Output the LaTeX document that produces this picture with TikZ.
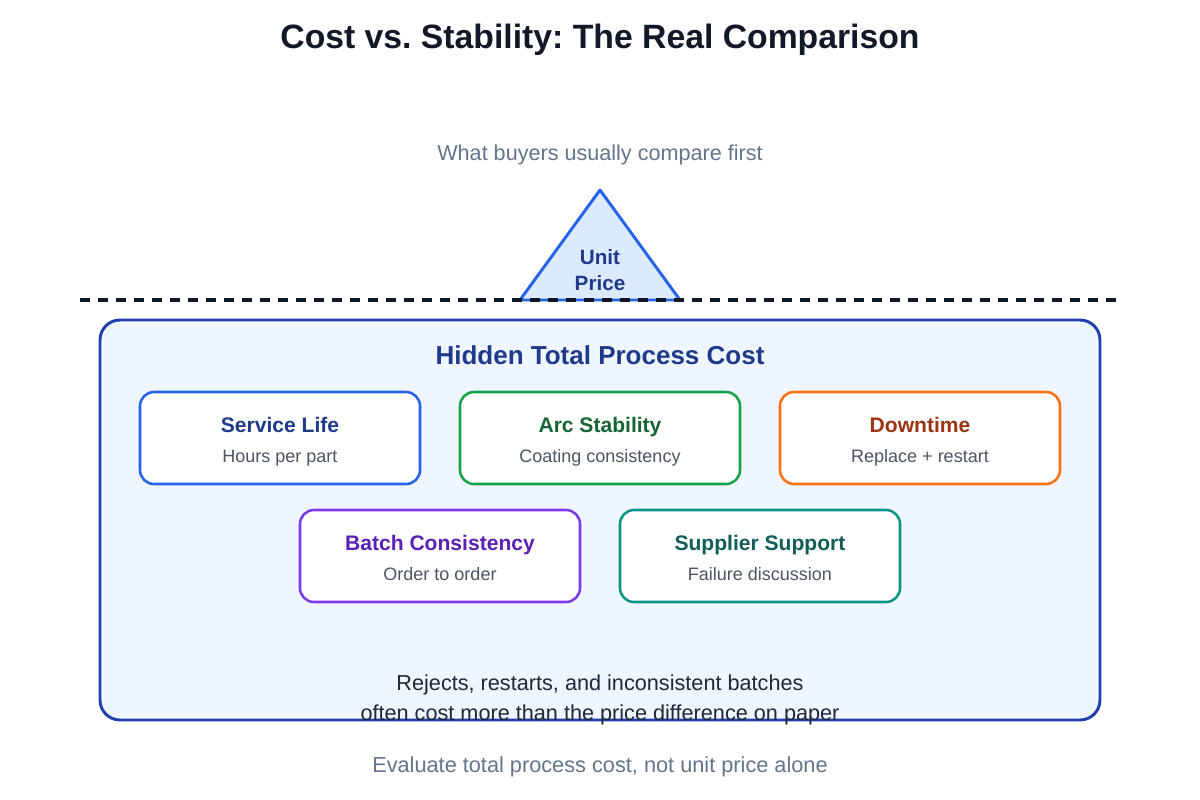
\documentclass[tikz,border=0pt]{standalone}
\usepackage{fontspec}
\setmainfont{Liberation Sans}
\usetikzlibrary{positioning}
\frenchspacing

\definecolor{ink}{HTML}{111827}
\definecolor{muted}{HTML}{64748B}
\definecolor{subgray}{HTML}{4B5563}
\definecolor{bodytxt}{HTML}{1F2937}
\definecolor{navy}{HTML}{1E3A8A}
\definecolor{navyline}{HTML}{1E40AF}
\definecolor{paleblue}{HTML}{EFF6FF}
\definecolor{trifill}{HTML}{DBEAFE}
\definecolor{blueline}{HTML}{2563EB}
\definecolor{greenline}{HTML}{16A34A}
\definecolor{greentxt}{HTML}{166534}
\definecolor{orangeline}{HTML}{F97316}
\definecolor{orangetxt}{HTML}{9A3412}
\definecolor{purpleline}{HTML}{7C3AED}
\definecolor{purpletxt}{HTML}{5B21B6}
\definecolor{tealline}{HTML}{0D9488}
\definecolor{tealtxt}{HTML}{115E59}

\tikzset{
  factor/.style={draw=#1, line width=1.9pt, fill=white, rounded corners=10.5pt,
    minimum width=210pt, minimum height=69pt, inner sep=0pt},
  factorhead/.style={text=#1, anchor=base, font=\fontsize{15.8}{18}\selectfont\bfseries},
  factorsub/.style={text=subgray, anchor=base, font=\fontsize{13.5}{16}\selectfont},
}

\begin{document}
\begin{tikzpicture}[x=0.75pt,y=-0.75pt]
	\useasboundingbox (0,0) rectangle (1200,800);
	% title and question
	\node (title) [text=ink, font=\fontsize{25.3}{30}\selectfont\bfseries] at (600,40) {Cost vs. Stability: The Real Comparison};
	\node (question) [text=muted, font=\fontsize{16.2}{19}\selectfont] at (600,155) {What buyers usually compare first};
	% visible part: unit price
	\coordinate (apex) at (600,190);
	\coordinate (baseleft) at (520,300);
	\coordinate (baseright) at (680,300);
	\draw [draw=blueline, fill=trifill, line width=2.2pt, line join=round] (apex) -- (baseright) -- (baseleft) -- cycle;
	\node (unit) [text=navy, font=\fontsize{15.5}{19.5}\selectfont\bfseries, align=center] at (600,270) {Unit\\Price};
	% waterline
	\coordinate (lineleft) at (80,300);
	\coordinate (lineright) at (1118,300);
	\draw [draw=ink, line width=2.3pt, dash pattern=on 7.5pt off 6pt] (lineleft) -- (lineright);
	% hidden part
	\node (hidden) [draw=navyline, fill=paleblue, line width=2.2pt, rounded corners=15pt,
		minimum width=750pt, minimum height=300pt] at (600,520) {};
	\node (hiddentitle) [text=navy, font=\fontsize{19.5}{23}\selectfont\bfseries] at (600,355) {Hidden Total Process Cost};
	% first row
	\node (life) [factor=blueline] at (280,438) {};
	\node [factorhead=navy] at ([yshift=4.1pt]life.center) {Service Life};
	\node [factorsub] at ([yshift=-18pt]life.center) {Hours per part};
	\node (arc) [factor=greenline] at (600,438) {};
	\node [factorhead=greentxt] at ([yshift=4.1pt]arc.center) {Arc Stability};
	\node [factorsub] at ([yshift=-18pt]arc.center) {Coating consistency};
	\node (down) [factor=orangeline] at (920,438) {};
	\node [factorhead=orangetxt] at ([yshift=4.1pt]down.center) {Downtime};
	\node [factorsub] at ([yshift=-18pt]down.center) {Replace + restart};
	% second row
	\node (batch) [factor=purpleline] at (440,556) {};
	\node [factorhead=purpletxt] at ([yshift=4.1pt]batch.center) {Batch Consistency};
	\node [factorsub] at ([yshift=-18pt]batch.center) {Order to order};
	\node (support) [factor=tealline] at (760,556) {};
	\node [factorhead=tealtxt] at ([yshift=4.1pt]support.center) {Supplier Support};
	\node [factorsub] at ([yshift=-18pt]support.center) {Failure discussion};
	% conclusion
	\node (note) [text=bodytxt, font=\fontsize{16.25}{22.5}\selectfont, align=center] at (600,700) {Rejects, restarts, and inconsistent batches\\often cost more than the price difference on paper};
	\node (advice) [text=muted, font=\fontsize{16.3}{19}\selectfont] at (600,767) {Evaluate total process cost, not unit price alone};
\end{tikzpicture}
\end{document}
